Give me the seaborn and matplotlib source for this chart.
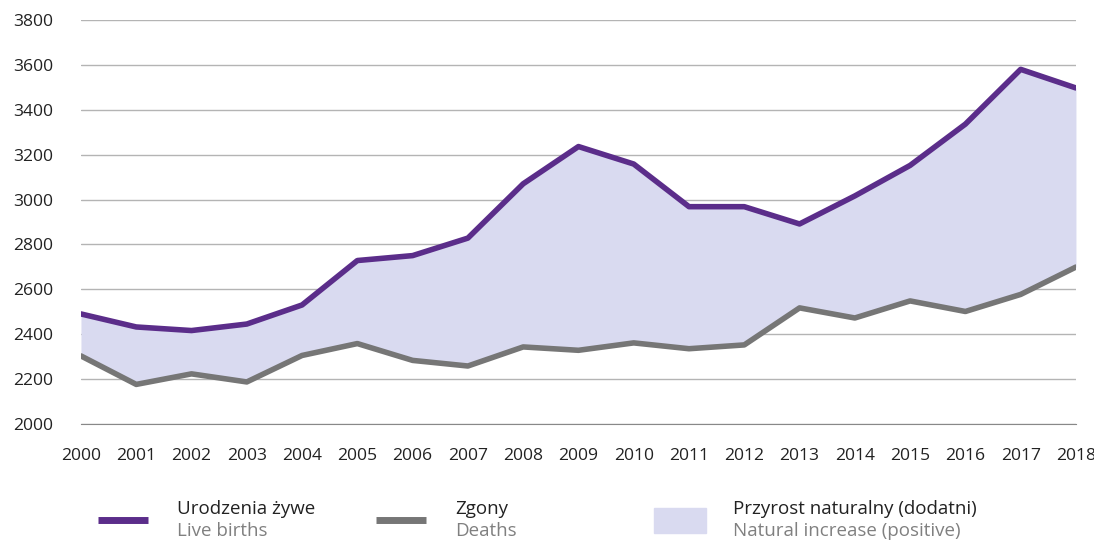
import numpy as np
import pandas as pd
import matplotlib
matplotlib.use("Agg")
import matplotlib.pyplot as plt
import seaborn as sns
from matplotlib.lines import Line2D
from matplotlib.patches import Rectangle

years = list(range(2000, 2019))
births = [2490, 2432, 2416, 2445, 2530, 2728, 2750, 2828, 3070, 3236,
          3158, 2968, 2968, 2891, 3016, 3152, 3336, 3580, 3497]
deaths = [2303, 2176, 2223, 2187, 2305, 2358, 2283, 2258, 2343, 2328,
          2361, 2335, 2352, 2517, 2472, 2548, 2501, 2577, 2699]

purple = "#5b2d8a"
grey = "#767676"
fill = "#d9daf0"

sns.set_style("white")
plt.rcParams["font.family"] = ["Open Sans", "DejaVu Sans"]

df = pd.DataFrame({"year": years, "births": births, "deaths": deaths})

fig = plt.figure(figsize=(10.94, 5.4), dpi=100)
ax = fig.add_axes([0.074, 0.215, 0.9095, 0.748])

ax.fill_between(df["year"], df["deaths"], df["births"], color=fill, lw=0, zorder=1)
sns.lineplot(data=df, x="year", y="births", color=purple, lw=4, ax=ax, zorder=3)
sns.lineplot(data=df, x="year", y="deaths", color=grey, lw=4, ax=ax, zorder=3)

ax.set_xlim(2000, 2018)
ax.set_ylim(2000, 3800)
ax.set_yticks(range(2000, 3801, 200))
ax.set_xticks(years)
ax.set_xlabel("")
ax.set_ylabel("")
ax.grid(axis="y", color="#b4b4b4", lw=1, zorder=0)
ax.set_axisbelow(True)
for s in ["top", "right", "left"]:
    ax.spines[s].set_visible(False)
ax.spines["bottom"].set_color("#888888")
ax.tick_params(axis="x", length=5, color="#888888", labelsize=12.6, pad=12, labelcolor="#222222")
ax.tick_params(axis="y", length=0, labelsize=12.6, pad=20, labelcolor="#222222")

# legend drawn by hand below the axes
fig.add_artist(Line2D([98 / 1094, 148 / 1094], [1 - 520 / 540] * 2, color=purple, lw=5,
                      solid_capstyle="butt"))
fig.text(177 / 1094, 1 - 509 / 540, "Urodzenia żywe", fontsize=13.5, color="#222222", va="center")
fig.text(177 / 1094, 1 - 531 / 540, "Live births", fontsize=13.5, color="#808080", va="center")

fig.add_artist(Line2D([376 / 1094, 426 / 1094], [1 - 520 / 540] * 2, color=grey, lw=5,
                      solid_capstyle="butt"))
fig.text(455 / 1094, 1 - 509 / 540, "Zgony", fontsize=13.5, color="#222222", va="center")
fig.text(455 / 1094, 1 - 531 / 540, "Deaths", fontsize=13.5, color="#808080", va="center")

fig.add_artist(Rectangle((654 / 1094, 1 - 533 / 540), 52 / 1094, 25 / 540, color=fill,
                         transform=fig.transFigure))
fig.text(733 / 1094, 1 - 509 / 540, "Przyrost naturalny (dodatni)", fontsize=13.5, color="#222222", va="center")
fig.text(733 / 1094, 1 - 531 / 540, "Natural increase (positive)", fontsize=13.5, color="#808080", va="center")

fig.savefig("out.png", dpi=100)
